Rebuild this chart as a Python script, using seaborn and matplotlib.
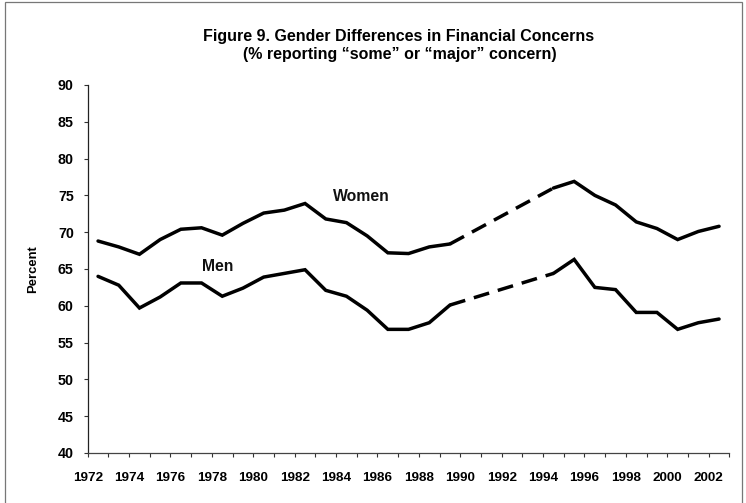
import numpy as np
import pandas as pd
import matplotlib
matplotlib.use("Agg")
import matplotlib.pyplot as plt
from matplotlib.patches import Rectangle
import seaborn as sns

# ---- data ----
years = list(range(1972, 2003))
women = [68.8, 68.0, 67.0, 69.0, 70.4, 70.6, 69.6, 71.2, 72.6, 73.0, 73.9,
         71.8, 71.3, 69.5, 67.2, 67.1, 68.0, 68.4,
         np.nan, np.nan, np.nan, np.nan,
         76.0, 76.9, 75.0, 73.7, 71.4, 70.5, 69.0, 70.1, 70.8]
men = [64.0, 62.8, 59.7, 61.2, 63.1, 63.1, 61.3, 62.4, 63.9, 64.4, 64.9,
       62.1, 61.3, 59.4, 56.8, 56.8, 57.7, 60.1,
       np.nan, np.nan, np.nan, np.nan,
       64.4, 66.3, 62.5, 62.2, 59.1, 59.1, 56.8, 57.7, 58.2]
series_names = ["Women", "Men"]
yticks = list(range(40, 95, 5))
xtick_years = list(range(1972, 2004))
xlabel_years = list(range(1972, 2003, 2))
title_lines = ["Figure 9. Gender Differences in Financial Concerns",
               "(% reporting \u201csome\u201d or \u201cmajor\u201d concern)"]
ylabel = "Percent"

sns.set_theme(style="white")
plt.rcParams["font.family"] = ["Liberation Sans", "DejaVu Sans"]
plt.rcParams["font.weight"] = "bold"

fig = plt.figure(figsize=(7.46, 5.03), dpi=100)
W, H = 746, 503
ax = fig.add_axes([87.7 / W, (H - 453) / H, (729.4 - 87.7) / W, (453 - 85) / H])

df = pd.DataFrame({"year": years, "Women": women, "Men": men})

lw = 2.5
for name in series_names:
    s = df[["year", name]].rename(columns={name: "pct"})
    valid = s["pct"].notna()
    # segment ids: contiguous runs of valid data
    seg = (valid != valid.shift()).cumsum()
    runs = [g for _, g in s[valid].groupby(seg[valid])]
    for g in runs:
        sns.lineplot(data=g, x="year", y="pct", ax=ax, color="black",
                     linewidth=lw, estimator=None, solid_joinstyle="miter")
    # dashed bridge over the missing years
    for a, b in zip(runs[:-1], runs[1:]):
        bridge = pd.concat([a.tail(1), b.head(1)])
        sns.lineplot(data=bridge, x="year", y="pct", ax=ax, color="black",
                     linewidth=lw, estimator=None, linestyle=(0, (4.6, 2.6)),
                     dash_capstyle="butt")

ax.set_xlim(1971.5, 2002.5)
ax.set_ylim(40, 90)
ax.set_xlabel("")
ax.set_ylabel("")

ax.set_xticks([y - 0.5 for y in xtick_years])
ax.set_xticklabels([str(y) if y in xlabel_years else "" for y in xtick_years])
ax.set_yticks(yticks)
ax.set_yticklabels([str(v) for v in yticks])

for side in ["top", "right"]:
    ax.spines[side].set_visible(False)
ax.spines["left"].set_color("#222222")
ax.spines["bottom"].set_color("#444444")
ax.spines["left"].set_linewidth(0.9)
ax.spines["bottom"].set_linewidth(0.9)

ax.tick_params(axis="x", which="major", direction="out", length=3, width=0.8,
               color="#333333", pad=11, labelsize=9.7, labelcolor="black",
               bottom=True)
ax.tick_params(axis="y", which="major", direction="out", length=3, width=0.8,
               color="#333333", pad=7, labelsize=10.3, labelcolor="black",
               left=True)
for lab in ax.get_xticklabels() + ax.get_yticklabels():
    lab.set_fontweight("bold")

# series labels
ax.text(1984.7, 74.9, series_names[0], ha="center", va="center",
        fontsize=11.3, fontweight="bold", color="#111111")
ax.text(1977.8, 65.4, series_names[1], ha="center", va="center",
        fontsize=11.3, fontweight="bold", color="#111111")

# titles
fig.text(399 / W, 1 - 37 / H, title_lines[0], ha="center", va="center",
         fontsize=11.5, fontweight="bold", color="black")
fig.text(400 / W, 1 - 55 / H, title_lines[1], ha="center", va="center",
         fontsize=11.5, fontweight="bold", color="black")

fig.text(33 / W, 1 - 269 / H, ylabel, rotation=90, ha="center", va="center",
         fontsize=9.4, fontweight="bold", color="black")

# frame around the figure
fig.patches.append(Rectangle((5 / W, -0.01), (742 - 5) / W, 1 - 1.5 / H + 0.01,
                             transform=fig.transFigure, fill=False,
                             edgecolor="#777777", linewidth=0.9))

fig.savefig("out.png", dpi=100)
